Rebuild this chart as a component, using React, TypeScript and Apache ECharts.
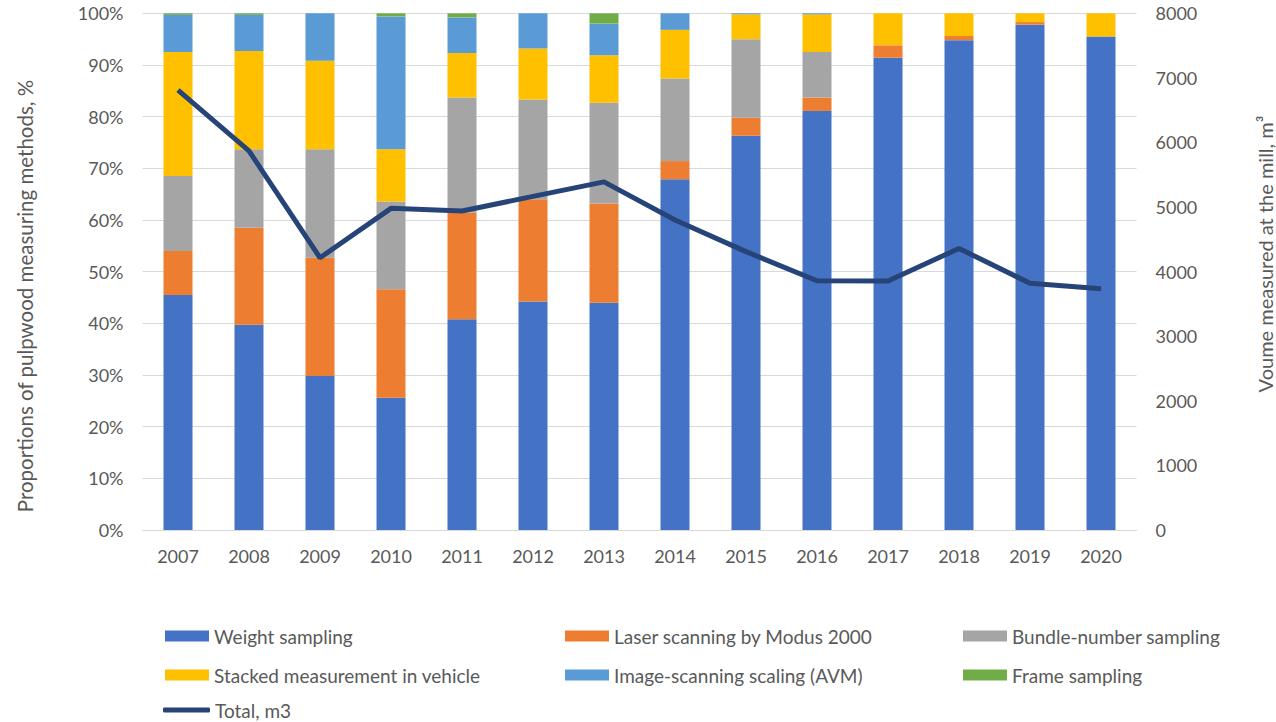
import React, { useEffect, useRef } from "react";
import * as echarts from "echarts";

const years = ["2007", "2008", "2009", "2010", "2011", "2012", "2013", "2014", "2015", "2016", "2017", "2018", "2019", "2020"];
const weightSampling = [45.5, 39.7, 29.8, 25.6, 40.8, 44.2, 44.0, 67.9, 76.3, 81.1, 91.4, 94.8, 97.8, 95.5];
const laserScanning = [8.5, 18.8, 22.9, 21.0, 20.6, 19.8, 19.2, 3.5, 3.5, 2.6, 2.4, 0.8, 0.5, 0];
const bundleNumber = [14.5, 15.2, 21.0, 17.0, 22.3, 19.3, 19.5, 16.0, 15.2, 8.8, 0, 0, 0, 0];
const stackedVehicle = [24.0, 19.0, 17.1, 10.1, 8.6, 9.9, 9.2, 9.4, 4.8, 7.3, 6.2, 4.4, 1.7, 4.5];
const imageScanning = [7.2, 7.0, 9.2, 25.7, 6.9, 6.8, 6.1, 3.2, 0.2, 0.2, 0, 0, 0, 0];
const frameSampling = [0.3, 0.3, 0, 0.6, 0.8, 0, 2.0, 0, 0, 0, 0, 0, 0, 0];
const totalM3 = [6810, 5870, 4215, 4980, 4940, 5165, 5390, 4800, 4310, 3860, 3855, 4360, 3820, 3735];

const barNames = [
  "Weight sampling",
  "Laser scanning by Modus 2000",
  "Bundle-number sampling",
  "Stacked measurement in vehicle",
  "Image-scanning scaling (AVM)",
  "Frame sampling",
];
const lineName = "Total, m3";
const leftTitle = "Proportions of pulpwood measuring methods, %";
const rightTitle = "Voume measured at the mill, m³";

const FONT = "Lato";
const TXT = "#595959";

export default function App() {
  const ref = useRef<HTMLDivElement>(null);
  useEffect(() => {
    document.body.style.margin = "0";
    const chart = echarts.init(ref.current!, undefined, { renderer: "svg" });
    const barData = [weightSampling, laserScanning, bundleNumber, stackedVehicle, imageScanning, frameSampling];
    const colors = ["#4472C4", "#ED7D31", "#A5A5A5", "#FFC000", "#5B9BD5", "#70AD47"];
    const legendText = { color: TXT, fontFamily: FONT, fontSize: 19, lineHeight: 20 };
    const legendPos: [string, number, number][] = [
      [barNames[0], 165, 626],
      [barNames[1], 565, 626],
      [barNames[2], 963, 626],
      [barNames[3], 165, 665],
      [barNames[4], 565, 665],
      [barNames[5], 963, 665],
    ];
    const legends: any[] = legendPos.map(([name, left, top]) => ({
      left,
      top,
      padding: 0,
      itemWidth: 44,
      itemHeight: 11,
      icon: "rect",
      textStyle: legendText,
      data: [name],
    }));
    legends.push({
      left: 163,
      top: 700,
      padding: 0,
      itemWidth: 47,
      itemHeight: 5,
      icon: "roundRect",
      textStyle: legendText,
      data: [lineName],
    });
    chart.setOption({
      animation: false,
      textStyle: { fontFamily: FONT },
      grid: { left: 142.5, right: 139.5, top: 13.3, bottom: 192 },
      legend: legends,
      graphic: [
        {
          type: "text",
          x: 25,
          y: 296,
          rotation: Math.PI / 2,
          style: { text: leftTitle, fill: TXT, fontSize: 20.5, fontFamily: FONT, align: "center", verticalAlign: "middle" },
        },
        {
          type: "text",
          x: 1265,
          y: 254,
          rotation: Math.PI / 2,
          style: { text: rightTitle, fill: TXT, fontSize: 20, fontFamily: FONT, align: "center", verticalAlign: "middle" },
        },
      ],
      xAxis: {
        type: "category",
        data: years,
        axisTick: { show: false },
        axisLine: { lineStyle: { color: "#D9D9D9", width: 1 } },
        axisLabel: { color: TXT, fontSize: 18, fontFamily: FONT, margin: 17 },
      },
      yAxis: [
        {
          type: "value",
          min: 0,
          max: 100,
          interval: 10,
          axisLabel: { color: TXT, fontSize: 18, fontFamily: FONT, formatter: "{value}%", margin: 19 },
          splitLine: { lineStyle: { color: "#D9D9D9", width: 1 } },
          axisLine: { show: false },
          axisTick: { show: false },
        },
        {
          type: "value",
          min: 0,
          max: 8000,
          interval: 1000,
          axisLabel: { color: TXT, fontSize: 18, fontFamily: FONT, margin: 19, formatter: (v: number) => String(v) },
          splitLine: { show: false },
          axisLine: { show: false },
          axisTick: { show: false },
        },
      ],
      series: [
        ...barNames.map((n, i) => ({
          name: n,
          type: "bar",
          stack: "methods",
          barWidth: 29,
          data: barData[i],
          itemStyle: { color: colors[i] },
        })),
        {
          name: lineName,
          type: "line",
          yAxisIndex: 1,
          data: totalM3,
          symbol: "none",
          lineStyle: { color: "#264478", width: 5 },
          itemStyle: { color: "#264478" },
          z: 10,
        },
      ],
    });
    return () => chart.dispose();
  }, []);
  return <div ref={ref} style={{ position: "absolute", left: 0, top: 0, width: 1276, height: 722 }} />;
}
